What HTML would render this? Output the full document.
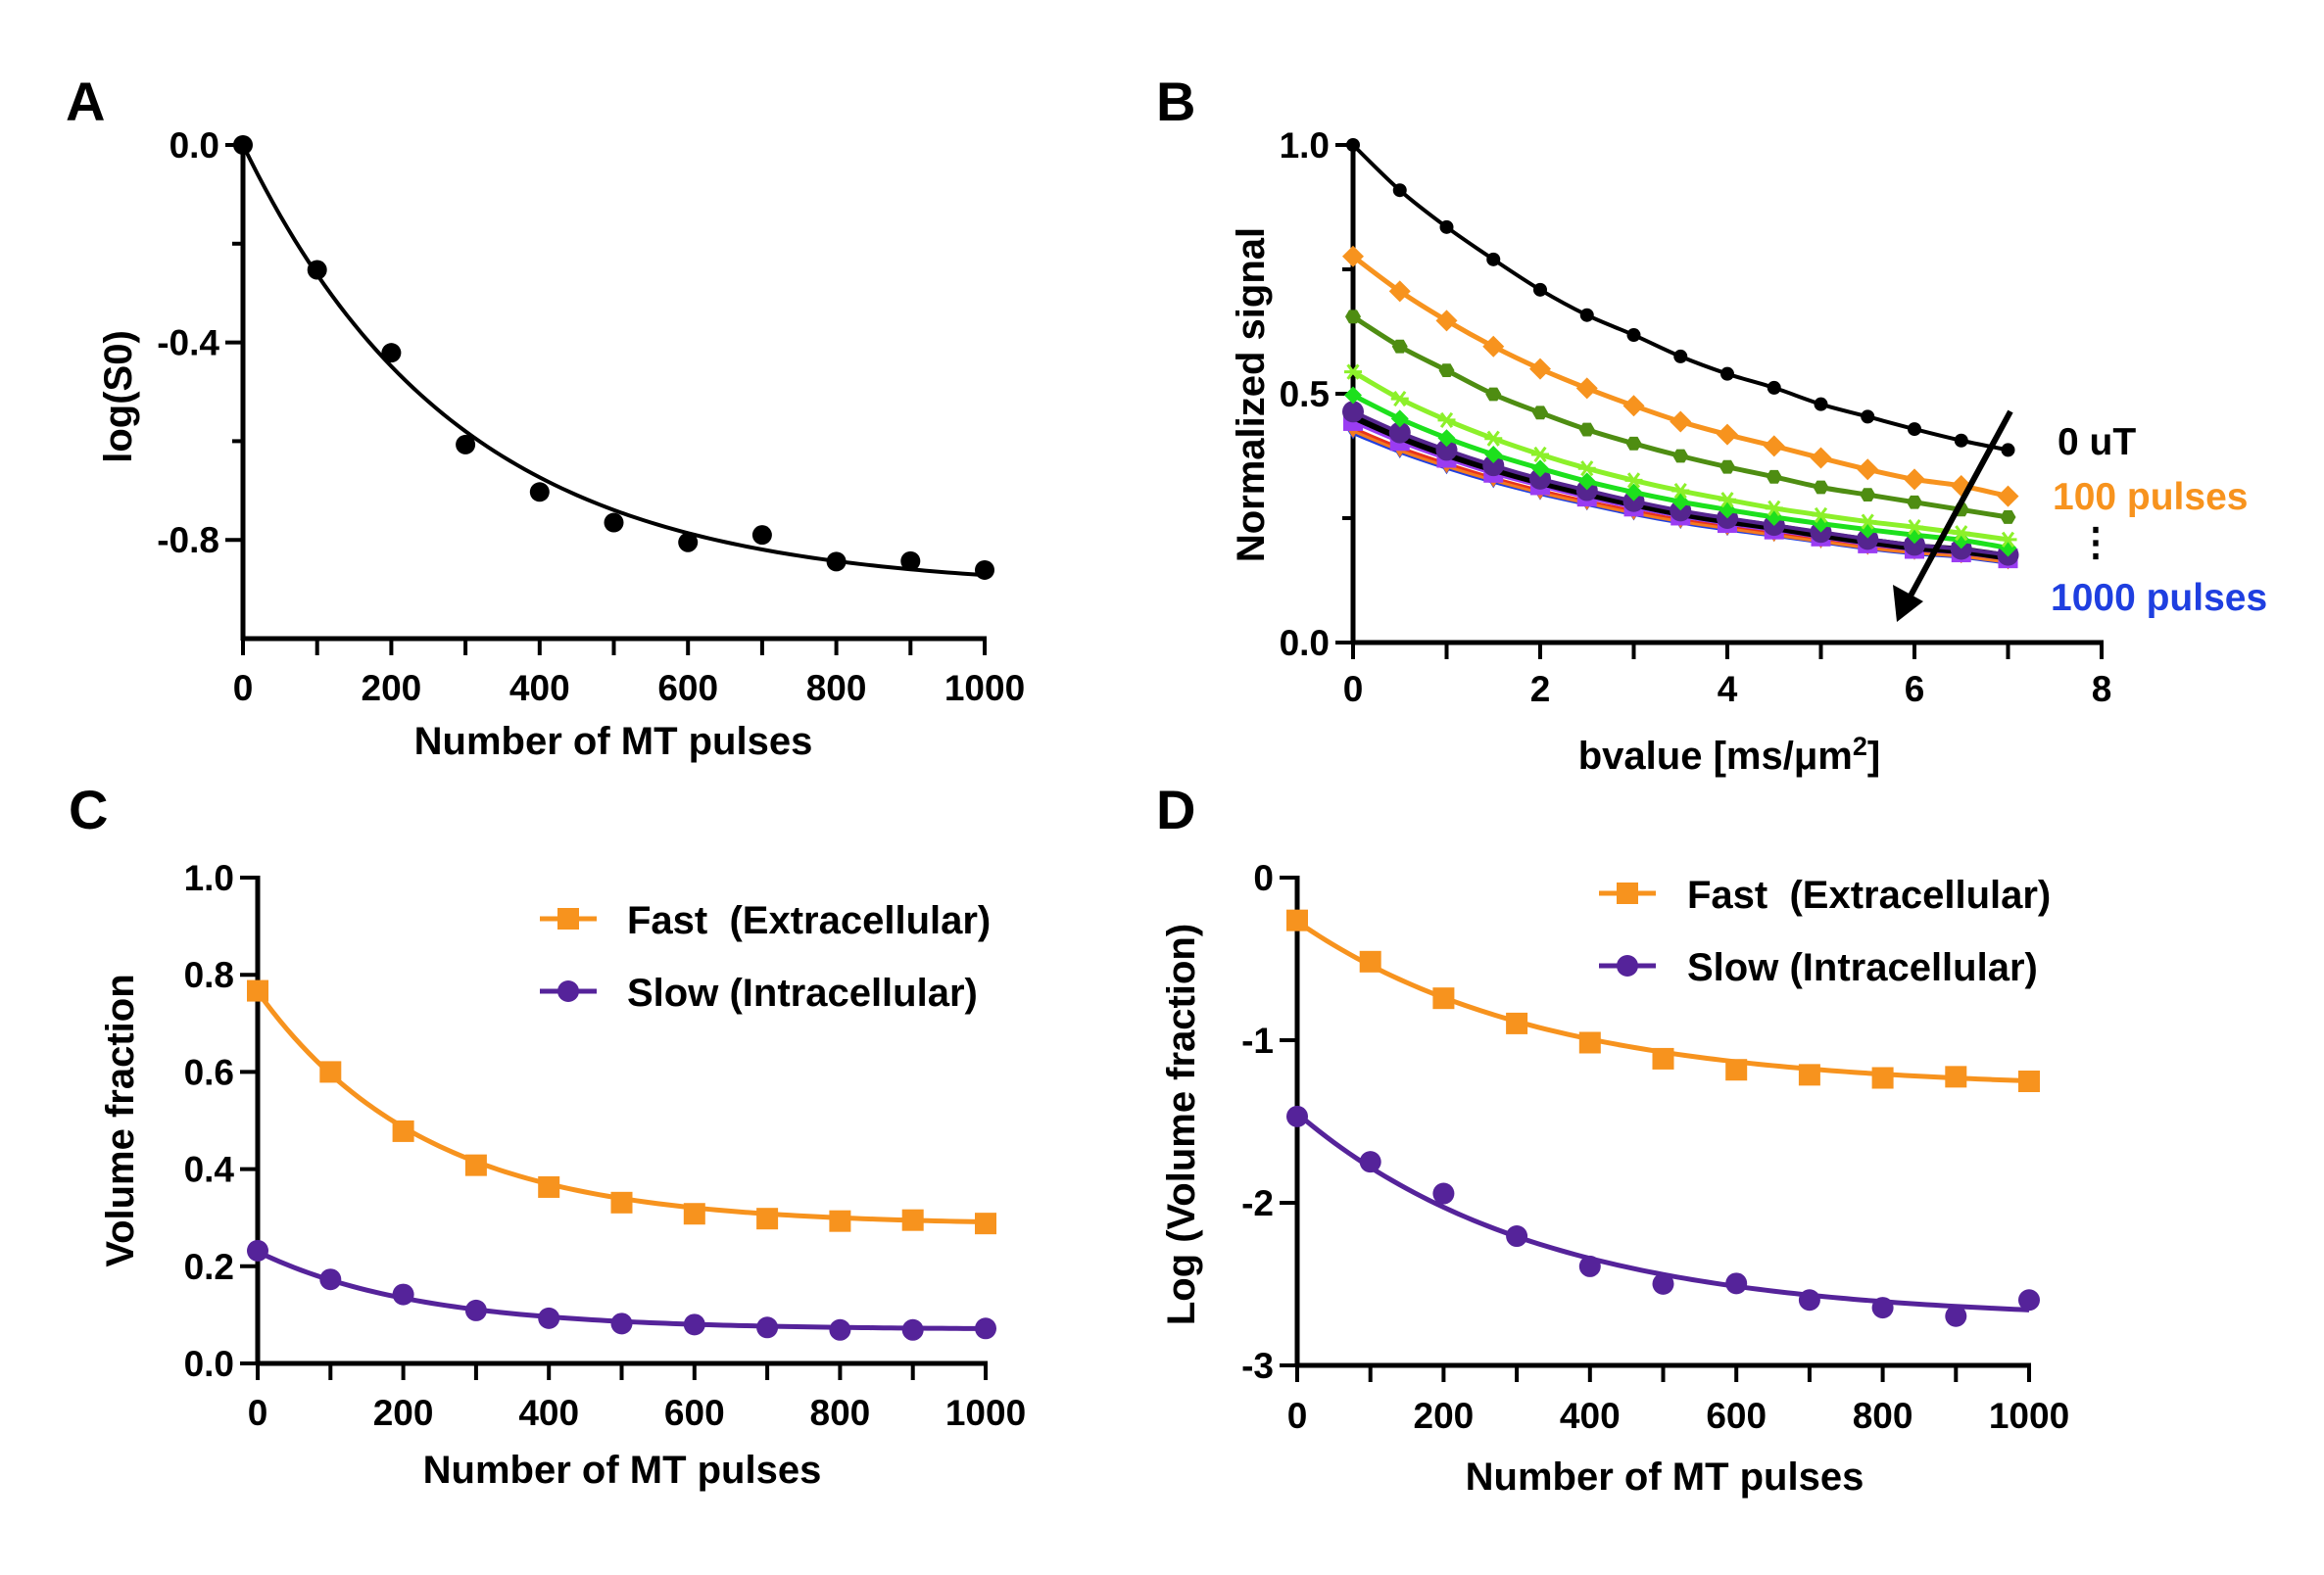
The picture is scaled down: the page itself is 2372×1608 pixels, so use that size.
<!DOCTYPE html>
<html><head><meta charset="utf-8"><style>
html,body{margin:0;padding:0;background:#fff;}
svg{display:block;}
text{font-family:"Liberation Sans",Arial,sans-serif;font-weight:bold;white-space:pre;}
</style></head><body>
<svg id="fig" width="2372" height="1608" viewBox="0 0 2372 1608" xmlns="http://www.w3.org/2000/svg"></svg>
<script>
// ---------- Panel A data ----------
const aPulses = [0,100,200,300,400,500,600,700,800,900,1000];
const aLogS0 = [0,-0.253,-0.421,-0.607,-0.703,-0.765,-0.805,-0.790,-0.844,-0.843,-0.861];
const aFit = [-0.9, 290]; // plateau, tau
const aXTicks = [0,200,400,600,800,1000];
const aYTicks = [0,-0.4,-0.8];
const aYTickLabels = ["0.0","-0.4","-0.8"];

// ---------- Panel B data ----------
const bValues = [0,0.5,1,1.5,2,2.5,3,3.5,4,4.5,5,5.5,6,6.5,7];
const bSig0uT = [1.0,.909,.835,.770,.709,.658,.618,.575,.540,.512,.479,.454,.429,.406,.387];
const bSig100 = [.776,.706,.647,.595,.550,.511,.476,.444,.418,.395,.371,.348,.328,.315,.294];
const bSig200 = [.655,.595,.547,.499,.462,.428,.400,.375,.353,.333,.312,.297,.282,.267,.252];
const bSig300 = [.544,.490,.447,.410,.378,.350,.326,.305,.287,.270,.256,.243,.232,.220,.207];
const bSig400 = [.497,.450,.411,.378,.350,.324,.302,.283,.267,.252,.239,.227,.216,.206,.190];
const bSig500 = [.455,.414,.379,.349,.323,.300,.279,.260,.245,.232,.217,.204,.192,.185,.172];
const bSig600 = [.464,.422,.387,.356,.329,.306,.284,.265,.250,.236,.222,.208,.196,.188,.176];
const bSig700 = [.445,.405,.371,.341,.316,.293,.273,.255,.240,.227,.213,.199,.188,.181,.169];
const bSig800 = [.425,.386,.354,.326,.301,.280,.260,.243,.229,.216,.203,.190,.180,.173,.161];
const bSig900 = [.430,.391,.359,.330,.305,.283,.264,.246,.232,.219,.206,.193,.182,.175,.163];
const bSig1000 = [.420,.382,.350,.322,.298,.277,.257,.240,.226,.214,.201,.188,.178,.171,.159];
const bXTicks = [0,2,4,6,8];
const bYTicks = [0,0.5,1.0];
const bYTickLabels = ["0.0","0.5","1.0"];

// ---------- Panel C data ----------
const cPulses = [0,100,200,300,400,500,600,700,800,900,1000];
const cFast = [.767,.600,.478,.408,.363,.331,.308,.298,.293,.295,.288];
const cSlow = [.232,.173,.142,.109,.093,.082,.080,.074,.069,.069,.072];
const cFastFit = [.285,.48,230];
const cSlowFit = [.07,.16,220];
const cYTicks = [0,0.2,0.4,0.6,0.8,1.0];
const cYTickLabels = ["0.0","0.2","0.4","0.6","0.8","1.0"];

// ---------- Panel D data ----------
const dPulses = [0,100,200,300,400,500,600,700,800,900,1000];
const dFast = [-.263,-.517,-.742,-.897,-1.015,-1.114,-1.182,-1.213,-1.232,-1.225,-1.253];
const dSlow = [-1.469,-1.748,-1.943,-2.205,-2.391,-2.499,-2.496,-2.598,-2.645,-2.697,-2.598];
const dFastFit = [-1.3,1.03,330];
const dSlowFit = [-2.72,1.27,330];
const dYTicks = [0,-1,-2,-3];
const dYTickLabels = ["0","-1","-2","-3"];

const NS = "http://www.w3.org/2000/svg";
const svg = document.getElementById("fig");
function el(tag, attrs, parent){ const e=document.createElementNS(NS,tag); for(const k in attrs) e.setAttribute(k,attrs[k]); (parent||svg).appendChild(e); return e; }
function txt(s, x, y, size, anchor, fill, parent){ const t=el("text",{x:x,y:y,"font-size":size,"text-anchor":anchor||"start",fill:fill||"#000"},parent); t.textContent=s; return t; }
function lin(d0,d1,r0,r1){ return v => r0+(v-d0)/(d1-d0)*(r1-r0); }
function smoothPath(pts){
  let d="M"+pts[0][0]+","+pts[0][1];
  for(let i=0;i<pts.length-1;i++){
    const p0=pts[i-1]||pts[i], p1=pts[i], p2=pts[i+1], p3=pts[i+2]||p2;
    const c1=[p1[0]+(p2[0]-p0[0])/6, p1[1]+(p2[1]-p0[1])/6];
    const c2=[p2[0]-(p3[0]-p1[0])/6, p2[1]-(p3[1]-p1[1])/6];
    d+=" C"+c1[0]+","+c1[1]+" "+c2[0]+","+c2[1]+" "+p2[0]+","+p2[1];
  }
  return d;
}
function marker(g, shape, x, y, s, fill){
  if(shape==="circle") return el("circle",{cx:x,cy:y,r:s,fill:fill},g);
  if(shape==="square") return el("rect",{x:x-s,y:y-s,width:2*s,height:2*s,fill:fill},g);
  if(shape==="diamond") return el("polygon",{points:`${x},${y-s} ${x+s},${y} ${x},${y+s} ${x-s},${y}`,fill:fill},g);
  if(shape==="tri") return el("polygon",{points:`${x},${y+s} ${x+s},${y-s*0.6} ${x-s},${y-s*0.6}`,fill:fill},g);
  if(shape==="hex"){ let p=[]; for(let k=0;k<6;k++){const a=Math.PI/3*k; p.push((x+s*Math.cos(a))+","+(y+s*Math.sin(a)));} return el("polygon",{points:p.join(" "),fill:fill},g); }
  if(shape==="star"){ const g2=el("g",{stroke:fill,"stroke-width":3},g); el("line",{x1:x-s,y1:y,x2:x+s,y2:y},g2); el("line",{x1:x-s*0.6,y1:y-s*0.8,x2:x+s*0.6,y2:y+s*0.8},g2); el("line",{x1:x-s*0.6,y1:y+s*0.8,x2:x+s*0.6,y2:y-s*0.8},g2); return g2; }
}
function axes(g, x0, x1, yTop, yBot, xs, ys, xTickVals, xMinor, xLabels, xLabY, yTickVals, yMinor, yLabels){
  el("line",{x1:x0,y1:yTop-2,x2:x0,y2:yBot+2,stroke:"#000","stroke-width":5},g);
  el("line",{x1:x0-2,y1:yBot,x2:x1+2,y2:yBot,stroke:"#000","stroke-width":5},g);
  const xg=el("g",{},g);  
  xMinor.forEach(v=>el("line",{x1:xs(v),y1:yBot,x2:xs(v),y2:yBot+17,stroke:"#000","stroke-width":4},xg));
  xTickVals.forEach((v,i)=>{ const t=txt(xLabels[i],xs(v),xLabY,37,"middle","#000",xg);   });
  const yg=el("g",{},g);  
  yMinor.forEach(v=>el("line",{x1:x0-11,y1:ys(v),x2:x0,y2:ys(v),stroke:"#000","stroke-width":4},yg));
  yTickVals.forEach((v,i)=>{ el("line",{x1:x0-18,y1:ys(v),x2:x0,y2:ys(v),stroke:"#000","stroke-width":4},yg);
    const t=txt(yLabels[i],x0-24,ys(v)+13,37,"end","#000",yg);   });
}
function fitCurve(fn, xs, ys, x0, x1){ let p=[]; for(let i=0;i<=100;i++){const v=x0+(x1-x0)*i/100; p.push(xs(v)+","+ys(fn(v)));} return p.join(" "); }

// ================= Panel A =================
{
  const g=el("g",{});  
  const xs=lin(0,1000,248,1005), ys=lin(0,-1,148,652);
  const L=txt("A",67,123,56,"start","#000",g);  
  axes(g,248,1005,148,652,xs,ys,aXTicks,[0,100,200,300,400,500,600,700,800,900,1000],aXTicks.map(String),715,aYTicks,[-0.2,-0.6],aYTickLabels);
  const c=el("polyline",{points:fitCurve(v=>aFit[0]*(1-Math.exp(-v/aFit[1])),xs,ys,0,1000),fill:"none",stroke:"#000","stroke-width":4},g);
   
  aPulses.forEach((p,i)=>{ const m=marker(g,"circle",xs(p),ys(aLogS0[i]),10,"#000");   });
  const xt=txt("Number of MT pulses",626,770,40,"middle","#000",g);  
  const yt=txt("log(S0)",0,0,40,"middle","#000",g); yt.setAttribute("transform","translate(134,405) rotate(-90)");
   
}
// ================= Panel B =================
{
  const g=el("g",{});  
  const xs=lin(0,8,1381,2145), ys=lin(0,1,656,148);
  const L=txt("B",1180,123,56,"start","#000",g);  
  axes(g,1381,2145,148,656,xs,ys,bXTicks,[0,1,2,3,4,5,6,7,8],bXTicks.map(String),716,bYTicks,[0.25,0.75],bYTickLabels);
  const series=[
    [bSig1000,"#1f3fe0","tri",6,3],[bSig900,"#e8341c","tri",8,4],[bSig800,"#f47a20","tri",7,3],
    [bSig700,"#9a3cf2","square",10,5],[bSig500,"#000","circle",5,8],[bSig600,"#55258f","circle",11,4],
    [bSig400,"#1de01d","diamond",9,5],[bSig300,"#8cf02a","star",9,5],[bSig200,"#4e8d12","hex",8,5],
    [bSig100,"#f7931e","diamond",11,5],[bSig0uT,"#000","circle",7,4]
  ];
  series.forEach(s=>{
    const sg=el("g",{},g);  
    const pts=bValues.map((b,i)=>[xs(b),ys(s[0][i])]);
    el("path",{d:smoothPath(pts),fill:"none",stroke:s[1],"stroke-width":s[4]},sg);
    pts.forEach(p=>marker(sg,s[2],p[0],p[1],s[3],s[1]));
  });
  const ar=el("g",{},g);  
  el("line",{x1:2052,y1:420,x2:1948,y2:612,stroke:"#000","stroke-width":6},ar);
  el("polygon",{points:"1936,635 1932,597 1963,614",fill:"#000"},ar);
  const t1=txt("0 uT",2100,464,39,"start","#000",g);  
  const t2=txt("100 pulses",2095,520,39,"start","#f7931e",g);  
  const t3=txt("⋮",2139,567,40,"middle","#000",g);  
  const t4=txt("1000 pulses",2093,623,39,"start","#1f3fe0",g);  
  const xt=el("text",{x:1765,y:785,"font-size":40,"text-anchor":"middle"},g);
  xt.innerHTML='bvalue [ms/μm<tspan dy="-14" font-size="27">2</tspan><tspan dy="14">]</tspan>';
   
  const yt=txt("Normalized signal",0,0,40,"middle","#000",g); yt.setAttribute("transform","translate(1290,403) rotate(-90)");
   
}
// ================= Panel C =================
function legend(g, lx, y1, y2, tx){
  const a=el("g",{},g);  
  el("line",{x1:lx,y1:y1,x2:lx+58,y2:y1,stroke:"#f7931e","stroke-width":5},a);
  marker(a,"square",lx+29,y1,11,"#f7931e");
  txt("Fast  (Extracellular)",tx,y1+15,40,"start","#000",a);
  const b=el("g",{},g);  
  el("line",{x1:lx,y1:y2,x2:lx+58,y2:y2,stroke:"#55239a","stroke-width":5},b);
  marker(b,"circle",lx+29,y2,11,"#55239a");
  txt("Slow (Intracellular)",tx,y2+15,40,"start","#000",b);
}
{
  const g=el("g",{});  
  const xs=lin(0,1000,263,1006), ys=lin(0,1,1392,896);
  const L=txt("C",70,846,56,"start","#000",g);  
  axes(g,263,1006,896,1392,xs,ys,aXTicks,[0,100,200,300,400,500,600,700,800,900,1000],aXTicks.map(String),1455,cYTicks,[],cYTickLabels);
  [[cFast,cFastFit,"#f7931e","square"],[cSlow,cSlowFit,"#55239a","circle"]].forEach(s=>{
    const sg=el("g",{},g);  
    el("polyline",{points:fitCurve(v=>s[1][0]+s[1][1]*Math.exp(-v/s[1][2]),xs,ys,0,1000),fill:"none",stroke:s[2],"stroke-width":5},sg);
    cPulses.forEach((p,i)=>marker(sg,s[3],xs(p),ys(s[0][i]),11,s[2]));
  });
  legend(g,551,938,1012,640);
  const xt=txt("Number of MT pulses",635,1514,40,"middle","#000",g);  
  const yt=txt("Volume fraction",0,0,40,"middle","#000",g); yt.setAttribute("transform","translate(136,1144) rotate(-90)");
   
}
// ================= Panel D =================
{
  const g=el("g",{});  
  const xs=lin(0,1000,1324,2071), ys=lin(0,-3,896,1394);
  const L=txt("D",1180,846,56,"start","#000",g);  
  axes(g,1324,2071,896,1394,xs,ys,aXTicks,[0,100,200,300,400,500,600,700,800,900,1000],aXTicks.map(String),1458,dYTicks,[],dYTickLabels);
  [[dFast,dFastFit,"#f7931e","square"],[dSlow,dSlowFit,"#55239a","circle"]].forEach(s=>{
    const sg=el("g",{},g);  
    el("polyline",{points:fitCurve(v=>s[1][0]+s[1][1]*Math.exp(-v/s[1][2]),xs,ys,0,1000),fill:"none",stroke:s[2],"stroke-width":5},sg);
    dPulses.forEach((p,i)=>marker(sg,s[3],xs(p),ys(s[0][i]),11,s[2]));
  });
  legend(g,1632,912,986,1722);
  const xt=txt("Number of MT pulses",1699,1521,40,"middle","#000",g);  
  const yt=txt("Log (Volume fraction)",0,0,40,"middle","#000",g); yt.setAttribute("transform","translate(1219,1148) rotate(-90)");
   
}
</script>
</body></html>
